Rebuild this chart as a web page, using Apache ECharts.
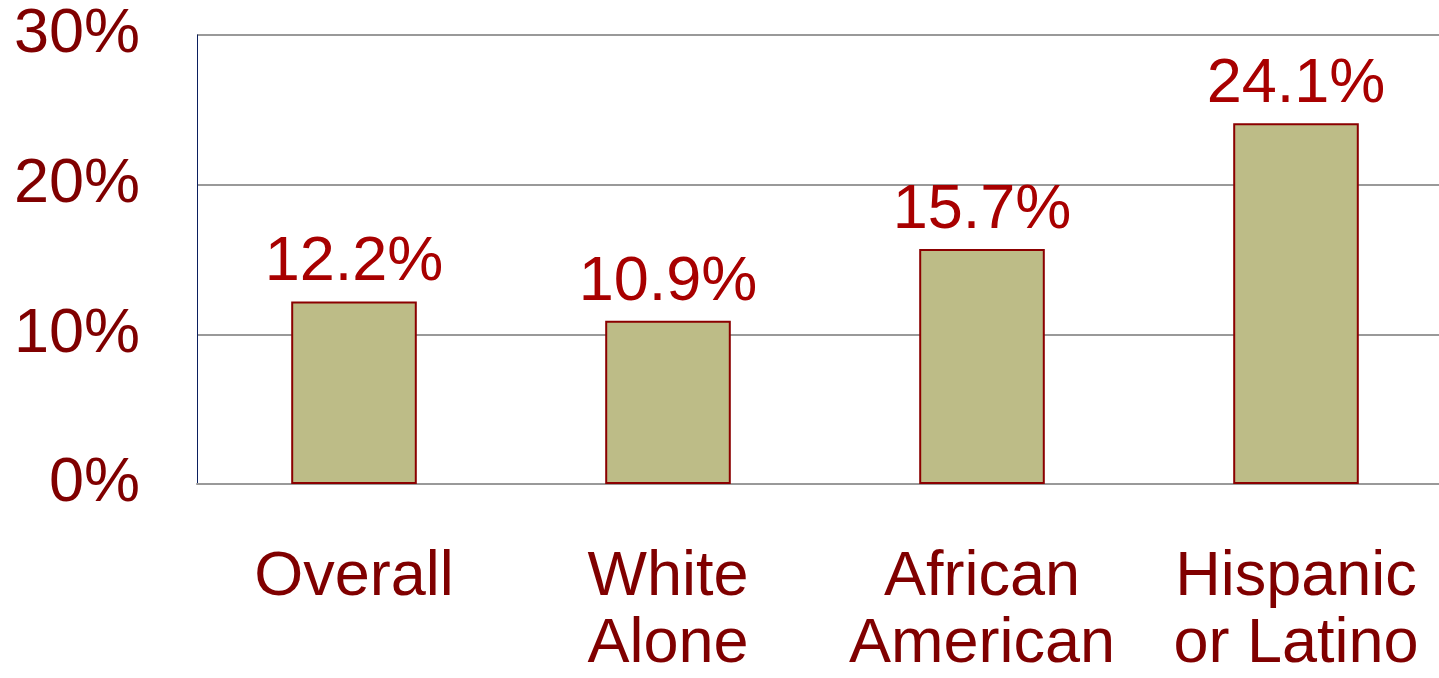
<!DOCTYPE html>
<html><head><meta charset="utf-8">
<script src="https://cdn.jsdelivr.net/npm/echarts@6/dist/echarts.min.js"></script>
<style>html,body{margin:0;padding:0;background:#fff;overflow:hidden;width:1439px;height:678px}#c{width:1470px;height:678px}</style>
</head><body><div id="c"></div>
<script>
const categories = ['Overall', 'White\nAlone', 'African\nAmerican', 'Hispanic\nor Latino'];
const values = [12.2, 10.9, 15.7, 24.1];
const yTicks = [0, 10, 20, 30];

const chart = echarts.init(document.getElementById('c'));
const FONT = '"Liberation Sans", Arial, sans-serif';
chart.setOption({
  animation: false,
  grid: { left: 197, top: 35, width: 1256, height: 450, containLabel: false },
  xAxis: {
    type: 'category', data: categories,
    axisLine: { show: true, lineStyle: { color: '#999999', width: 2 } },
    axisTick: { show: false },
    axisLabel: { color: '#800000', fontFamily: FONT, fontSize: 63, lineHeight: 67, margin: 60, interval: 0 }
  },
  yAxis: {
    type: 'value', min: yTicks[0], max: yTicks[yTicks.length - 1], interval: 10,
    axisLine: { show: true, lineStyle: { color: '#0b1f5e', width: 1 } },
    axisTick: { show: false },
    splitLine: { show: true, lineStyle: { color: '#999999', width: 2 } },
    axisLabel: { color: '#800000', fontFamily: FONT, fontSize: 63, margin: 57, formatter: v => v + '%' }
  },
  series: [{
    type: 'bar', data: values, barWidth: '40%',
    itemStyle: { color: '#bdbc87', borderColor: '#8b0000', borderWidth: 2 },
    label: { show: true, position: 'top', distance: 7, color: '#a80000', fontFamily: FONT, fontSize: 63, formatter: p => p.value.toFixed(1) + '%' }
  }]
});
</script></body></html>
